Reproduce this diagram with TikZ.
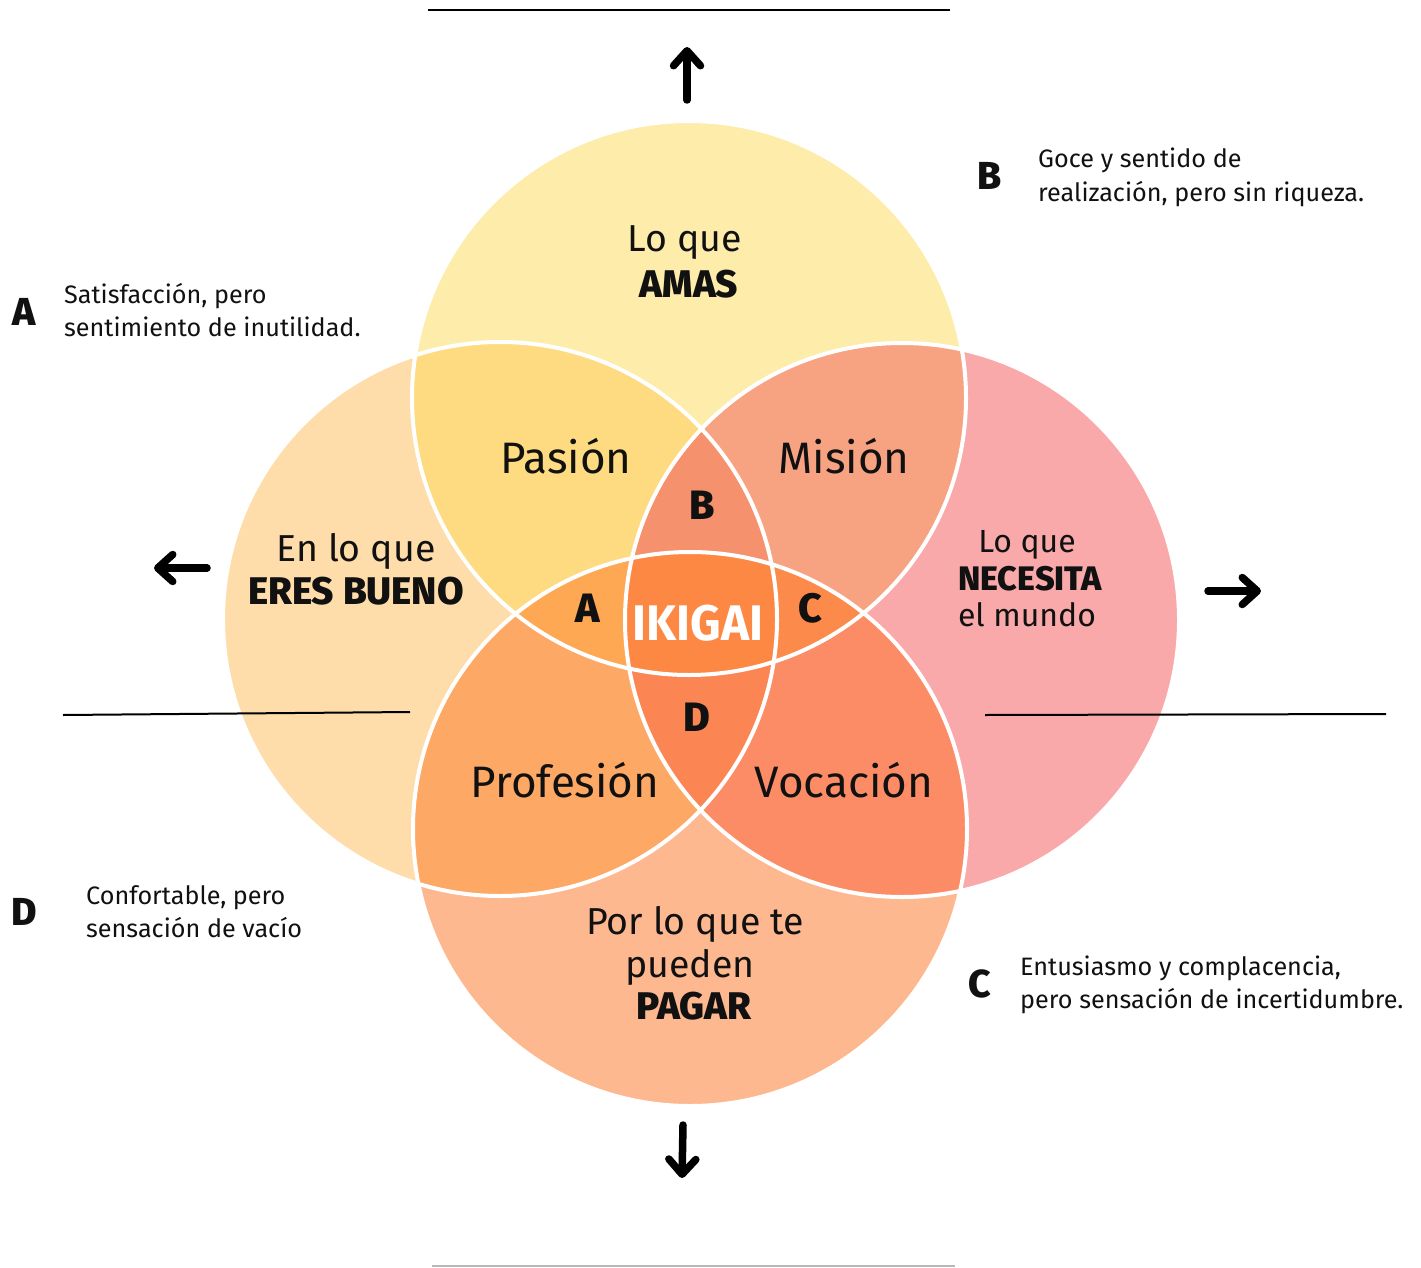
\documentclass[tikz,border=0pt]{standalone}
\usepackage{fontspec}
\setmainfont{Fira Sans}
\newfontfamily\xbold{Fira Sans ExtraBold}
\usetikzlibrary{arrows.meta}
\definecolor{ink}{HTML}{111111}
\definecolor{cTop}{HTML}{FEECAA}
\definecolor{cLeft}{HTML}{FEDDAA}
\definecolor{cRight}{HTML}{F9A9A9}
\definecolor{cBot}{HTML}{FEB88F}
\definecolor{cTL}{HTML}{FEDB80}
\definecolor{cTR}{HTML}{F7A281}
\definecolor{cLB}{HTML}{FDA865}
\definecolor{cRB}{HTML}{FC8C66}
\definecolor{cTLR}{HTML}{F5916C}
\definecolor{cTLB}{HTML}{FEA854}
\definecolor{cTRB}{HTML}{FC8A4A}
\definecolor{cLRB}{HTML}{FB8653}
\definecolor{cAll}{HTML}{FC8844}
\def\cT{(689,398) circle [radius=277pt]}
\def\cL{(500,619) circle [radius=277pt]}
\def\cR{(902,620) circle [radius=277pt]}
\def\cB{(690,829) circle [radius=277pt]}
\begin{document}
\begin{tikzpicture}[x=1pt,y=-1pt,
  txt/.style={inner sep=0pt, text=ink},
  bigtxt/.style={txt, font=\fontsize{44}{50}\selectfont},
  midtxt/.style={txt, font=\fontsize{37.5}{44}\selectfont},
  midbold/.style={txt, font=\fontsize{38.5}{44}\selectfont\xbold},
  smalltxt/.style={txt, font=\fontsize{32}{38}\selectfont},
  smallbold/.style={txt, font=\fontsize{34}{38}\selectfont\xbold},
  lettertxt/.style={txt, font=\fontsize{41}{46}\selectfont\xbold},
  sidetxt/.style={txt, anchor=base west, font=\fontsize{25.2}{34}\selectfont},
  sideletter/.style={txt, font=\fontsize{39}{44}\selectfont\xbold},
  rule/.style={line width=2pt, draw=black},
  bigarrow/.style={line width=7.5pt, line cap=round, -{Straight Barb[length=15pt,width=27pt,round]}}
]
\useasboundingbox (0,0) rectangle (1421,1268);
\fill[white] (0,0) rectangle (1421,1268);
% base circles
\fill[cTop] \cT;
\fill[cLeft] \cL;
\fill[cRight] \cR;
\fill[cBot] \cB;
% pairs
\begin{scope}\clip \cT; \fill[cTL] \cL; \fill[cTR] \cR; \end{scope}
\begin{scope}\clip \cB; \fill[cLB] \cL; \fill[cRB] \cR; \end{scope}
% triples
\begin{scope}\clip \cT; \clip \cL; \fill[cTLR] \cR; \fill[cTLB] \cB; \end{scope}
\begin{scope}\clip \cB; \clip \cR; \fill[cTRB] \cT; \fill[cLRB] \cL; \end{scope}
% all four
\begin{scope}\clip \cT; \clip \cL; \clip \cR; \fill[cAll] \cB; \end{scope}
% outlines
\draw[white, line width=4pt] \cT \cL \cR \cB;
% rules
\draw[rule] (428,10) coordinate (t1) -- (950,10) coordinate (t2);
\draw[rule] (63,715) coordinate (l1) -- (410,712) coordinate (l2);
\draw[rule] (985,715) coordinate (r1) -- (1386,714) coordinate (r2);
\draw[line width=2pt, draw=black!28] (432,1266) coordinate (b1) -- (955,1266) coordinate (b2);
% arrows
\coordinate (au1) at (687,100); \coordinate (au2) at (687,47);
\coordinate (al1) at (207,568); \coordinate (al2) at (154,568);
\coordinate (ar1) at (1208,591); \coordinate (ar2) at (1261,591);
\coordinate (ad1) at (683,1125); \coordinate (ad2) at (682,1178);
\draw[bigarrow] (au1) -- (au2);
\draw[bigarrow] (al1) -- (al2);
\draw[bigarrow] (ar1) -- (ar2);
\draw[bigarrow] (ad1) -- (ad2);
% circle labels
\node[midtxt] (loqueT) at (685,243) {Lo que};
\node[midbold] (amas) at (689,284) {AMAS};
\node[midtxt] (enlo) at (356,551) {En lo que};
\node[midbold] (eres) at (356,591) {ERES BUENO};
\node[smalltxt] (loqueR) at (1027,545) {Lo que};
\node[smallbold] (necesita) at (1030,579) {NECESITA};
\node[smalltxt] (mundo) at (1027,615) {el mundo};
\node[midtxt] (porlo) at (695,924) {Por lo que te};
\node[midtxt] (pueden) at (690,967) {pueden};
\node[midbold] (pagar) at (694,1006) {PAGAR};
% overlap labels
\node[bigtxt] (pasion) at (566,456) {Pasión};
\node[bigtxt] (mision) at (844,456) {Misión};
\node[bigtxt] (profesion) at (565,780) {Profesión};
\node[bigtxt] (vocacion) at (844,780) {Vocación};
\node[lettertxt] (lB) at (702,505) {B};
\node[lettertxt] (lA) at (588,608) {A};
\node[lettertxt] (lC) at (810,608) {C};
\node[lettertxt] (lD) at (697,717) {D};
\node[inner sep=0pt, text=white, font=\fontsize{50}{54}\selectfont\bfseries, xscale=0.95] (ikigai) at (698,623) {IKIGAI};
% side notes
\node[sideletter] (sA) at (24,312) {A};
\node[sidetxt] (sA1) at (64,303) {Satisfacción, pero};
\node[sidetxt] (sA2) at (64,336) {sentimiento de inutilidad.};
\node[sideletter] (sB) at (990,176) {B};
\node[sidetxt] (sB1) at (1038,168) {Goce y sentido de};
\node[sidetxt] (sB2) at (1038,201) {realización, pero sin riqueza.};
\node[sideletter] (sD) at (24,912) {D};
\node[sidetxt] (sD1) at (86,904) {Confortable, pero};
\node[sidetxt] (sD2) at (86,937) {sensación de vacío};
\node[sideletter] (sC) at (980,984) {C};
\node[sidetxt] (sC1) at (1020,975) {Entusiasmo y complacencia,};
\node[sidetxt] (sC2) at (1020,1008) {pero sensación de incertidumbre.};
\end{tikzpicture}
\end{document}
